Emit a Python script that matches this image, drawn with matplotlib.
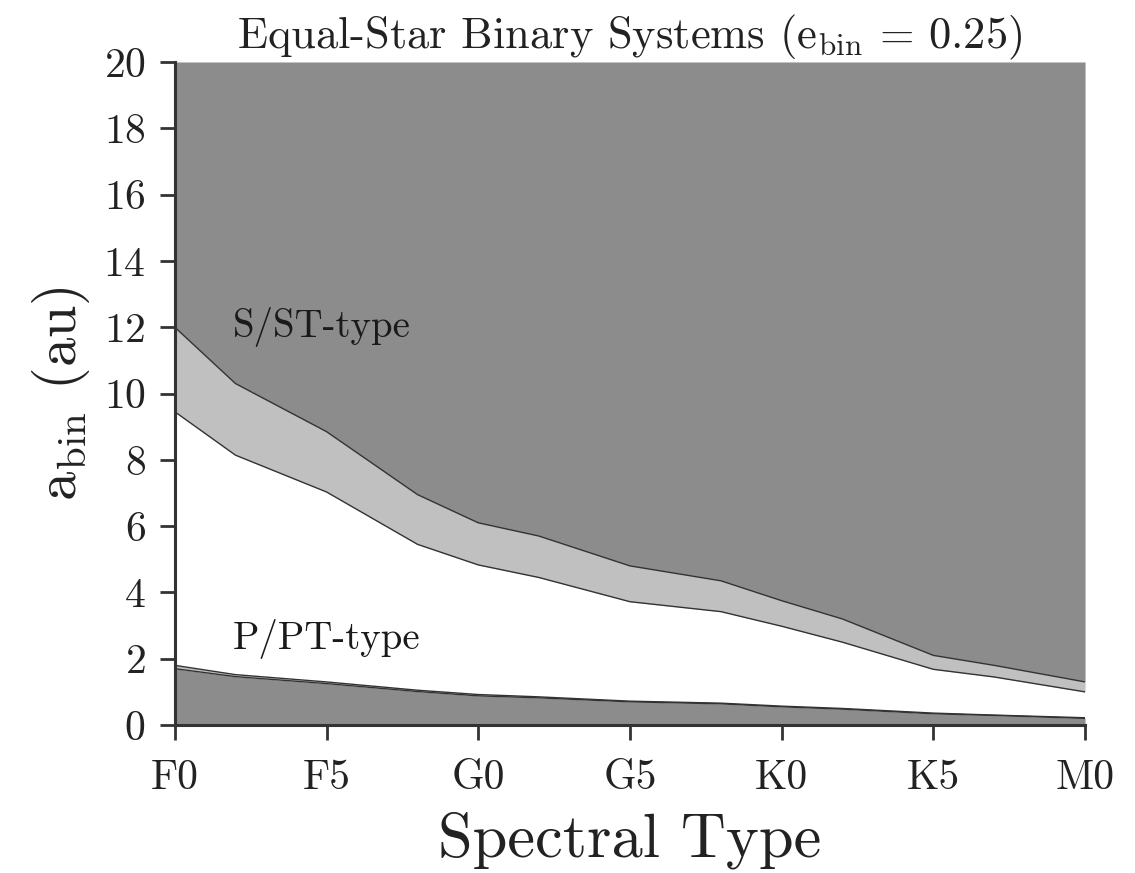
import numpy as np
import matplotlib
matplotlib.use("Agg")
import matplotlib.pyplot as plt

plt.rcParams['font.family'] = ['cmr10', 'DejaVu Serif']
plt.rcParams['mathtext.fontset'] = 'cm'
plt.rcParams['axes.formatter.use_mathtext'] = True

# spectral type position (F0=0, F5=1, G0=2, ... M0=6)
spec_pos = [0.0, 0.4, 1.0, 1.6, 2.0, 2.4, 3.0, 3.6, 4.0, 4.4, 5.0, 5.4, 6.0]
# S/ST-type limit (upper) and lower edge of the transition band
s_upper = [12.0, 10.3, 8.85, 6.95, 6.1, 5.7, 4.8, 4.35, 3.75, 3.2, 2.1, 1.8, 1.3]
s_lower = [9.45, 8.14, 7.03, 5.45, 4.83, 4.45, 3.72, 3.42, 2.98, 2.5, 1.68, 1.45, 1.0]
# P/PT-type limit
p_upper = [1.8, 1.52, 1.3, 1.05, 0.92, 0.85, 0.72, 0.66, 0.57, 0.5, 0.36, 0.3, 0.22]
p_lower = [1.7, 1.46, 1.25, 1.01, 0.88, 0.82, 0.7, 0.64, 0.55, 0.48, 0.34, 0.29, 0.2]

tick_pos = [0, 1, 2, 3, 4, 5, 6]
tick_labels = ['F0', 'F5', 'G0', 'G5', 'K0', 'K5', 'M0']

dark = '#8c8c8c'
light = '#c0c0c0'
edge = '#333333'

fig = plt.figure(figsize=(11.35, 8.73), dpi=100)
ax = fig.add_axes([0.154, 0.1695, 0.802, 0.7595])

x = np.array(spec_pos)
ax.fill_between(x, s_upper, 20, color=dark, lw=0)
ax.fill_between(x, s_lower, s_upper, color=light, lw=0)
ax.fill_between(x, 0, p_lower, color=dark, lw=0)
ax.fill_between(x, p_lower, p_upper, color=light, lw=0)
for yy in (s_upper, s_lower, p_upper, p_lower):
    ax.plot(x, yy, color=edge, lw=1.0)

ax.text(0.38, 12.0, 'S/ST-type', fontsize=28, va='center', ha='left', color='#1a1a1a')
ax.text(0.38, 2.6, 'P/PT-type', fontsize=28, va='center', ha='left', color='#1a1a1a')

ax.set_xlim(0, 6)
ax.set_ylim(0, 20)
ax.set_xticks(tick_pos)
ax.set_xticklabels(tick_labels)
ax.set_yticks(np.arange(0, 21, 2))
ax.tick_params(axis='both', labelsize=30, direction='out', length=11, width=2,
               color=edge, labelcolor='#222222', pad=10)
ax.tick_params(axis='x', pad=14)

for s in ('top', 'right'):
    ax.spines[s].set_visible(False)
for s in ('left', 'bottom'):
    ax.spines[s].set_linewidth(2.2)
    ax.spines[s].set_color(edge)

ax.set_xlabel('Spectral Type', fontsize=45, color='#222222', labelpad=10)
ax.set_ylabel(r'$\mathrm{a_{bin}}$ (au)', fontsize=42, color='#222222', labelpad=8)
ax.set_title(r'Equal-Star Binary Systems ($\mathrm{e_{bin}}$ = 0.25)', fontsize=32,
             color='#222222', pad=10)

fig.savefig('out.png', dpi=100)
